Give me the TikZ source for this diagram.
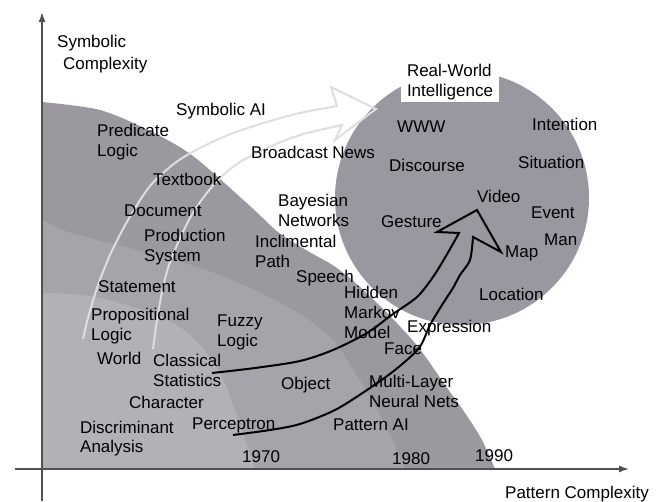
\documentclass[tikz,border=0pt]{standalone}
\usepackage{fontspec}
\setmainfont{Liberation Sans}
\usetikzlibrary{arrows.meta}

\definecolor{zoneouter}{HTML}{9B98A0}
\definecolor{zonemid}{HTML}{A6A3AB}
\definecolor{zoneinner}{HTML}{B3B0B6}
\definecolor{realworld}{HTML}{9A97A0}
\definecolor{axisgray}{HTML}{505050}
\definecolor{symline}{HTML}{DEDEDE}

% strut: 16pt above and 4pt below the baseline, so each line is centred on its capitals
\newcommand{\zz}{\rule[-4pt]{0pt}{20pt}}

\begin{document}
\begin{tikzpicture}[x=1pt,y=-1pt,
  lbl/.style={anchor=west, inner sep=0pt, align=left, font={\fontsize{17}{20}\selectfont}},
  axisline/.style={draw=axisgray, line width=1.4pt, -{Latex[length=10pt,width=7pt]}},
  symarrow/.style={draw=symline, line width=2pt, line join=miter},
  patarrow/.style={draw=black, line width=2pt, line join=miter}]
\useasboundingbox (0,0) rectangle (664,502);

% growth zones, outermost first
\fill[zoneouter] (42,469) -- (42,102)
  -- plot[smooth] coordinates {(42,102) (100,110) (150,131) (193,156) (250,206)
     (278,232) (306,250) (334,266) (360,287) (392,318) (419,348) (445,385)
     (465,413) (482,440) (495,469)} -- cycle;
\fill[zonemid] (42,469) -- (42,220)
  -- plot[smooth] coordinates {(42,220) (63,230) (97,240) (130,248) (200,268)
     (250,288) (300,314) (333,340) (350,365) (372,400) (390,435) (405,469)} -- cycle;
\fill[zoneinner] (42,469) -- (42,293)
  -- plot[smooth] coordinates {(42,293) (70,294) (100,298) (130,306) (160,316)
     (185,331) (205,351) (222,377) (235,410) (247,445) (255,469)} -- cycle;

% target region
\fill[realworld] (462,198) circle[radius=127];
\node[lbl, anchor=center, fill=white, inner xsep=6pt, inner ysep=1pt] (rwi) at (450,81)
  {\zz Real-World\\\zz Intelligence};

% axes
\coordinate (ybot) at (42,501);
\coordinate (ytop) at (42,12);
\coordinate (xlft) at (15,469);
\coordinate (xrgt) at (629,469);
\draw[axisline] (ybot) -- (ytop);
\draw[axisline] (xlft) -- (xrgt);

% symbolic AI arrow (open tail)
\draw[symarrow]
  plot[smooth] coordinates {(83,339) (88,318) (97,288) (110,255) (128,220)
     (150,186) (175,163) (200,148) (233,133) (267,122) (300,113) (337,106)}
  -- (331,87) -- (376,109) -- (335,140) -- (342,125)
  -- plot[smooth] coordinates {(342,125) (300,135) (267,148) (240,162) (220,178)
     (203,198) (190,218) (177,245) (168,268) (162,292) (157,320) (153,349)};

% pattern AI arrow (open tail)
\draw[patarrow]
  plot[smooth] coordinates {(212,373) (255,368) (300,361) (333,350) (367,333)
     (393,314) (417,297) (433,277) (446,256) (459,233)}
  -- (437,232) -- (477,210) -- (501,252) -- (473,237)
  -- plot[smooth] coordinates {(473,237) (470,260) (460,275) (453,288) (442,305)
     (430,325) (419,348) (395,370) (367,390) (335,410) (300,424) (270,430) (233,435)};

% axis titles
\node[lbl] (symc) at (57,53) {\zz Symbolic\\[2pt]\hspace*{6pt}\zz Complexity};
\node[lbl] (patc) at (505,492) {\zz Pattern Complexity};

% era labels
\node[lbl] (symai) at (176,110) {\zz Symbolic AI};
\node[lbl] (patai) at (333,424) {\zz Pattern AI};
\node[lbl] (y1970) at (242,456) {\zz 1970};
\node[lbl] (y1980) at (392,458) {\zz 1980};
\node[lbl] (y1990) at (475,455) {\zz 1990};

% techniques and tasks
\node[lbl] (pred) at (97,141) {\zz Predicate\\\zz Logic};
\node[lbl] (bnews) at (251,153) {\zz Broadcast News};
\node[lbl] (textbook) at (153,180) {\zz Textbook};
\node[lbl] (document) at (124,211) {\zz Document};
\node[lbl] (prod) at (144,246) {\zz Production\\\zz System};
\node[lbl] (bayes) at (278,211) {\zz Bayesian\\\zz Networks};
\node[lbl] (incl) at (255,252) {\zz Inclimental\\\zz Path};
\node[lbl] (speech) at (296,277) {\zz Speech};
\node[lbl] (hmm) at (344,313) {\zz Hidden\\\zz Markov\\\zz Model};
\node[lbl] (expr) at (407,327) {\zz Expression};
\node[lbl] (face) at (384,349) {\zz Face};
\node[lbl] (mlnn) at (369,391) {\zz Multi-Layer\\\zz Neural Nets};
\node[lbl] (object) at (281,384) {\zz Object};
\node[lbl] (fuzzy) at (217,331) {\zz Fuzzy\\\zz Logic};
\node[lbl] (classical) at (153,371) {\zz Classical\\\zz Statistics};
\node[lbl] (character) at (129,403) {\zz Character};
\node[lbl] (perceptron) at (192,423) {\zz Perceptron};
\node[lbl] (discr) at (80,437) {\zz Discriminant\\\zz Analysis};
\node[lbl] (world) at (97,359) {\zz World};
\node[lbl] (prop) at (91,325) {\zz Propositional\\\zz Logic};
\node[lbl] (statement) at (98,287) {\zz Statement};

% real-world topics
\node[lbl] (www) at (397,127) {\zz WWW};
\node[lbl] (intention) at (532,125) {\zz Intention};
\node[lbl] (discourse) at (389,166) {\zz Discourse};
\node[lbl] (situation) at (518,163) {\zz Situation};
\node[lbl] (video) at (477,197) {\zz Video};
\node[lbl] (event) at (531,213) {\zz Event};
\node[lbl] (gesture) at (381,222) {\zz Gesture};
\node[lbl] (man) at (544,240) {\zz Man};
\node[lbl] (map) at (505,252) {\zz Map};
\node[lbl] (location) at (479,295) {\zz Location};
\end{tikzpicture}
\end{document}
